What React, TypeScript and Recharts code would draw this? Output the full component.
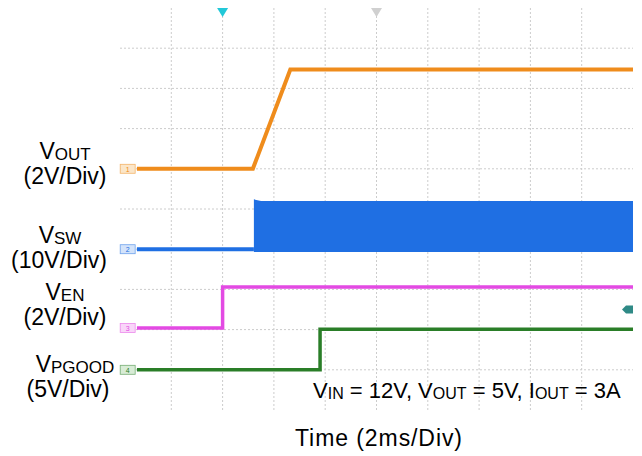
import React from 'react';
import { ComposedChart, Line, Area, XAxis, YAxis, CartesianGrid, ReferenceDot } from 'recharts';

// scope capture: time in divisions (2 ms/div), level in screen divisions
const gridX = [1, 2, 3, 4, 5, 6, 7, 8, 9];
const gridY = [1, 2, 3, 4, 5, 6, 7, 8, 9];
const DIVS = 10;

const voutTime = [0.33, 2.59, 3.32, 10];
const voutLevel = [6.0, 6.0, 8.47, 8.47];

const swTime = [0.33, 2.61];
const swLevel = [4.0, 4.0];
const swBurstTime = [2.61, 2.75, 10];
const swBurstLow = [3.93, 3.93, 3.93];
const swBurstHigh = [5.24, 5.2, 5.2];

const enTime = [0.33, 2.0, 2.0, 10];
const enLevel = [2.04, 2.04, 3.06, 3.06];

const pgTime = [0.33, 3.9, 3.9, 10];
const pgLevel = [1.0, 1.0, 2.01, 2.01];

const channelNames = ['OUT', 'SW', 'EN', 'PGOOD'];
const channelScales = ['(2V/Div)', '(10V/Div)', '(2V/Div)', '(5V/Div)'];

const ORANGE = '#ef8c1c';
const BLUE = '#1f6fe3';
const MAGENTA = '#e34ae3';
const GREEN = '#2a7e28';
const GRID = '#cccccc';
const FONT = '"Liberation Sans", Arial, sans-serif';

const W = 642;
const H = 456;

const pts = (t: number[], v: number[]) => t.map((x, i) => ({ t: x, v: v[i] }));

const voutData = pts(voutTime, voutLevel);
const swData = pts(swTime, swLevel);
const burstData = swBurstTime.map((x, i) => ({ t: x, range: [swBurstLow[i], swBurstHigh[i]] }));
const enData = pts(enTime, enLevel);
const pgData = pts(pgTime, pgLevel);

const ChanTag = (color: string, fill: string, label: string) => (p: any) => (
  <g>
    <rect x={p.cx - 7.5} y={p.cy - 4.5} width={15} height={9} fill={fill} stroke={color} strokeWidth={0.8} strokeOpacity={0.6} />
    <text x={p.cx} y={p.cy + 3} fontSize={7} textAnchor="middle" fill={color} fontFamily={FONT}>{label}</text>
  </g>
);

const TrigDown = (color: string) => (p: any) => (
  <path d={`M${p.cx - 5.5},${p.cy} L${p.cx + 5.5},${p.cy} L${p.cx},${p.cy + 9} Z`} fill={color} />
);

const LevelTag = (p: any) => (
  <path d={`M${p.cx},${p.cy - 4} L${p.cx - 7},${p.cy - 4} L${p.cx - 11},${p.cy} L${p.cx - 7},${p.cy + 4} L${p.cx},${p.cy + 4} Z`} fill="#2f8a86" />
);

const labelX = [65, 60, 65, 75];
const scaleX = [65, 59, 65, 68];
const labelBase = [159, 243, 300, 372];

const App = () => (
  <div style={{ position: 'absolute', left: 0, top: 0, width: W, height: H, background: '#fff' }}>
    <ComposedChart width={W} height={H} margin={{ top: 8, right: 9, bottom: 46, left: 120 }}>
      <CartesianGrid
        stroke={GRID}
        strokeDasharray="2 2"
        verticalCoordinatesGenerator={({ offset }: any) => gridX.map((v) => offset.left + (v / DIVS) * offset.width)}
        horizontalCoordinatesGenerator={({ offset }: any) => gridY.map((v) => offset.top + (1 - v / DIVS) * offset.height)}
      />
      <XAxis type="number" dataKey="t" domain={[0, DIVS]} hide allowDataOverflow />
      <YAxis type="number" domain={[0, DIVS]} hide allowDataOverflow />
      <Area data={burstData} dataKey="range" type="linear" stroke="none" fill={BLUE} fillOpacity={1} isAnimationActive={false} />
      <Line data={swData} dataKey="v" type="linear" stroke={BLUE} strokeWidth={4} dot={false} isAnimationActive={false} />
      <Line data={voutData} dataKey="v" type="linear" stroke={ORANGE} strokeWidth={4} dot={false} isAnimationActive={false} />
      <Line data={enData} dataKey="v" type="linear" stroke={MAGENTA} strokeWidth={3.5} dot={false} isAnimationActive={false} />
      <Line data={pgData} dataKey="v" type="linear" stroke={GREEN} strokeWidth={3.5} dot={false} isAnimationActive={false} />
      <ReferenceDot x={0.15} y={voutLevel[0]} shape={ChanTag(ORANGE, '#fbe6c9', '1')} />
      <ReferenceDot x={0.15} y={swLevel[0]} shape={ChanTag(BLUE, '#d3e3fa', '2')} />
      <ReferenceDot x={0.15} y={enLevel[0]} shape={ChanTag(MAGENTA, '#f9d6f9', '3')} />
      <ReferenceDot x={0.15} y={pgLevel[0]} shape={ChanTag(GREEN, '#d8ecd6', '4')} />
      <ReferenceDot x={enTime[1]} y={DIVS} shape={TrigDown('#22c8d8')} />
      <ReferenceDot x={5} y={DIVS} shape={TrigDown('#d0d0d0')} />
      <ReferenceDot x={DIVS} y={2.5} shape={LevelTag} />
    </ComposedChart>
    <svg width={W} height={H} style={{ position: 'absolute', left: 0, top: 0, pointerEvents: 'none' }} fontFamily={FONT} fill="#000">
      {channelNames.map((n, i) => (
        <g key={n}>
          <text x={labelX[i]} y={labelBase[i]} fontSize={23} textAnchor="middle">
            V<tspan fontSize={17} dy={1}>{n}</tspan>
          </text>
          <text x={scaleX[i]} y={labelBase[i] + 25} fontSize={23} textAnchor="middle">
            {channelScales[i]}
          </text>
        </g>
      ))}
      <text x={313} y={398} fontSize={22}>
        V<tspan fontSize={16} dy={1}>IN</tspan>
        <tspan dy={-1}> = 12V, V</tspan><tspan fontSize={16} dy={1}>OUT</tspan>
        <tspan dy={-1}> = 5V, I</tspan><tspan fontSize={16} dy={1}>OUT</tspan>
        <tspan dy={-1}> = 3A</tspan>
      </text>
      <text x={295} y={446} fontSize={23} textLength={167} lengthAdjust="spacing">Time (2ms/Div)</text>
    </svg>
  </div>
);

export default App;
